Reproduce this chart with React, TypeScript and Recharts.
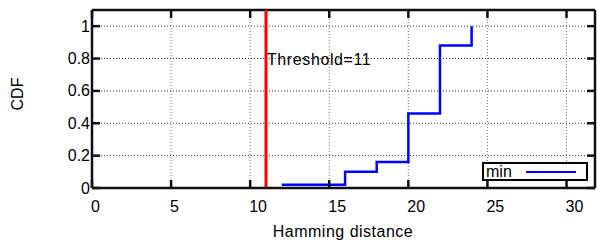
import React from "react";
import {
  LineChart,
  Line,
  XAxis,
  YAxis,
  CartesianGrid,
  ReferenceLine,
  Legend,
  Label,
} from "recharts";

// CDF of hamming distance (steps)
const distances = [12, 16, 18, 20, 22, 24];
const cdfMin = [0.02, 0.1, 0.16, 0.46, 0.88, 1.0];
const xTicks = [0, 5, 10, 15, 20, 25, 30];
const yTicks = [0, 0.2, 0.4, 0.6, 0.8, 1];
const threshold = 11;
const X_MAX = 31.8;
const Y_MAX = 1.1;

const data = distances.map((d, i) => ({ dist: d, min: cdfMin[i] }));

const W = 597;
const H = 240;
const M_TOP = 10;
const M_RIGHT = 2;
const FONT = '"Liberation Sans", Arial, Helvetica, sans-serif';
const INK = "#111111";

// gnuplot style: ticks point inwards, mirrored on top / right
const BottomTick = (props: any) => {
  const { x, y, payload } = props;
  return (
    <g>
      <line x1={x} y1={y} x2={x} y2={y - 8} stroke={INK} strokeWidth={2.5} />
      <line x1={x} y1={M_TOP} x2={x} y2={M_TOP + 8} stroke={INK} strokeWidth={2.5} />
      <text x={x - 1} y={y + 24} textAnchor="start" fontSize={16} fontFamily={FONT} fill="#000">
        {payload.value}
      </text>
    </g>
  );
};

const LeftTick = (props: any) => {
  const { x, y, payload } = props;
  const right = W - M_RIGHT;
  return (
    <g>
      <line x1={x} y1={y} x2={x + 8} y2={y} stroke={INK} strokeWidth={2.5} />
      <line x1={right} y1={y} x2={right - 8} y2={y} stroke={INK} strokeWidth={2.5} />
      <text x={x - 2} y={y + 5.5} textAnchor="end" fontSize={16} fontFamily={FONT} fill="#000">
        {payload.value}
      </text>
    </g>
  );
};

const LegendBox = () => (
  <div
    style={{
      boxSizing: "border-box",
      width: 106,
      height: 19,
      border: "2px solid #000",
      background: "#fff",
      display: "flex",
      alignItems: "center",
      fontFamily: FONT,
      fontSize: 16,
      lineHeight: "15px",
      paddingLeft: 2,
    }}
  >
    <span style={{ width: 40 }}>min</span>
    <span style={{ display: "inline-block", width: 50, height: 0, borderTop: "2.5px solid #0000ff" }} />
  </div>
);

export default function App() {
  return (
    <div style={{ position: "absolute", left: 0, top: 0 }}>
      <LineChart
        width={W}
        height={H}
        data={data}
        margin={{ top: M_TOP, right: M_RIGHT, bottom: 0, left: 0 }}
      >
        <CartesianGrid horizontal={false} stroke="#777" strokeDasharray="1 2" />
        <CartesianGrid vertical={false} stroke="#333" strokeDasharray="1 2" />
        <XAxis
          dataKey="dist"
          type="number"
          domain={[0, X_MAX]}
          ticks={xTicks}
          allowDataOverflow
          height={52}
          tickSize={0}
          tickMargin={0}
          tickLine={false}
          axisLine={{ stroke: INK, strokeWidth: 2.5 }}
          tick={<BottomTick />}
          interval={0}
        >
          <Label
            content={() => (
              <text x={343} y={237} textAnchor="middle" fontSize={16} fontFamily={FONT} letterSpacing={0.5} fill="#000">
                Hamming distance
              </text>
            )}
          />
        </XAxis>
        <YAxis
          type="number"
          domain={[0, Y_MAX]}
          ticks={yTicks}
          allowDataOverflow
          width={92}
          tickSize={0}
          tickMargin={0}
          tickLine={false}
          axisLine={{ stroke: INK, strokeWidth: 2.5 }}
          tick={<LeftTick />}
          interval={0}
        >
          <Label
            content={() => (
              <text
                x={23}
                y={94}
                textAnchor="middle"
                transform="rotate(-90 23 94)"
                fontSize={16}
                fontFamily={FONT}
                fill="#000"
              >
                CDF
              </text>
            )}
          />
        </YAxis>
        {/* top and right border of the plot */}
        <ReferenceLine y={Y_MAX} stroke={INK} strokeWidth={2.5} ifOverflow="visible" />
        <ReferenceLine x={X_MAX} stroke={INK} strokeWidth={2.5} ifOverflow="visible" />
        <ReferenceLine
          x={threshold}
          stroke="#ff0000"
          strokeWidth={3}
          label={(props: any) => {
            const vb = props.viewBox || {};
            const yy = vb.y + ((Y_MAX - 0.8) / Y_MAX) * vb.height + 6;
            return (
              <text x={vb.x + 1} y={yy} fontSize={16} fontFamily={FONT} letterSpacing={0.6} fill="#000">
                Threshold=11
              </text>
            );
          }}
        />
        <Line
          dataKey="min"
          name="min"
          type="stepAfter"
          stroke="#0000ff"
          strokeWidth={2.5}
          dot={false}
          isAnimationActive={false}
        />
        <Legend
          layout="vertical"
          align="center"
          verticalAlign="middle"
          content={<LegendBox />}
          wrapperStyle={{ left: 482, top: 162, width: 106, height: 19 }}
        />
      </LineChart>
    </div>
  );
}
